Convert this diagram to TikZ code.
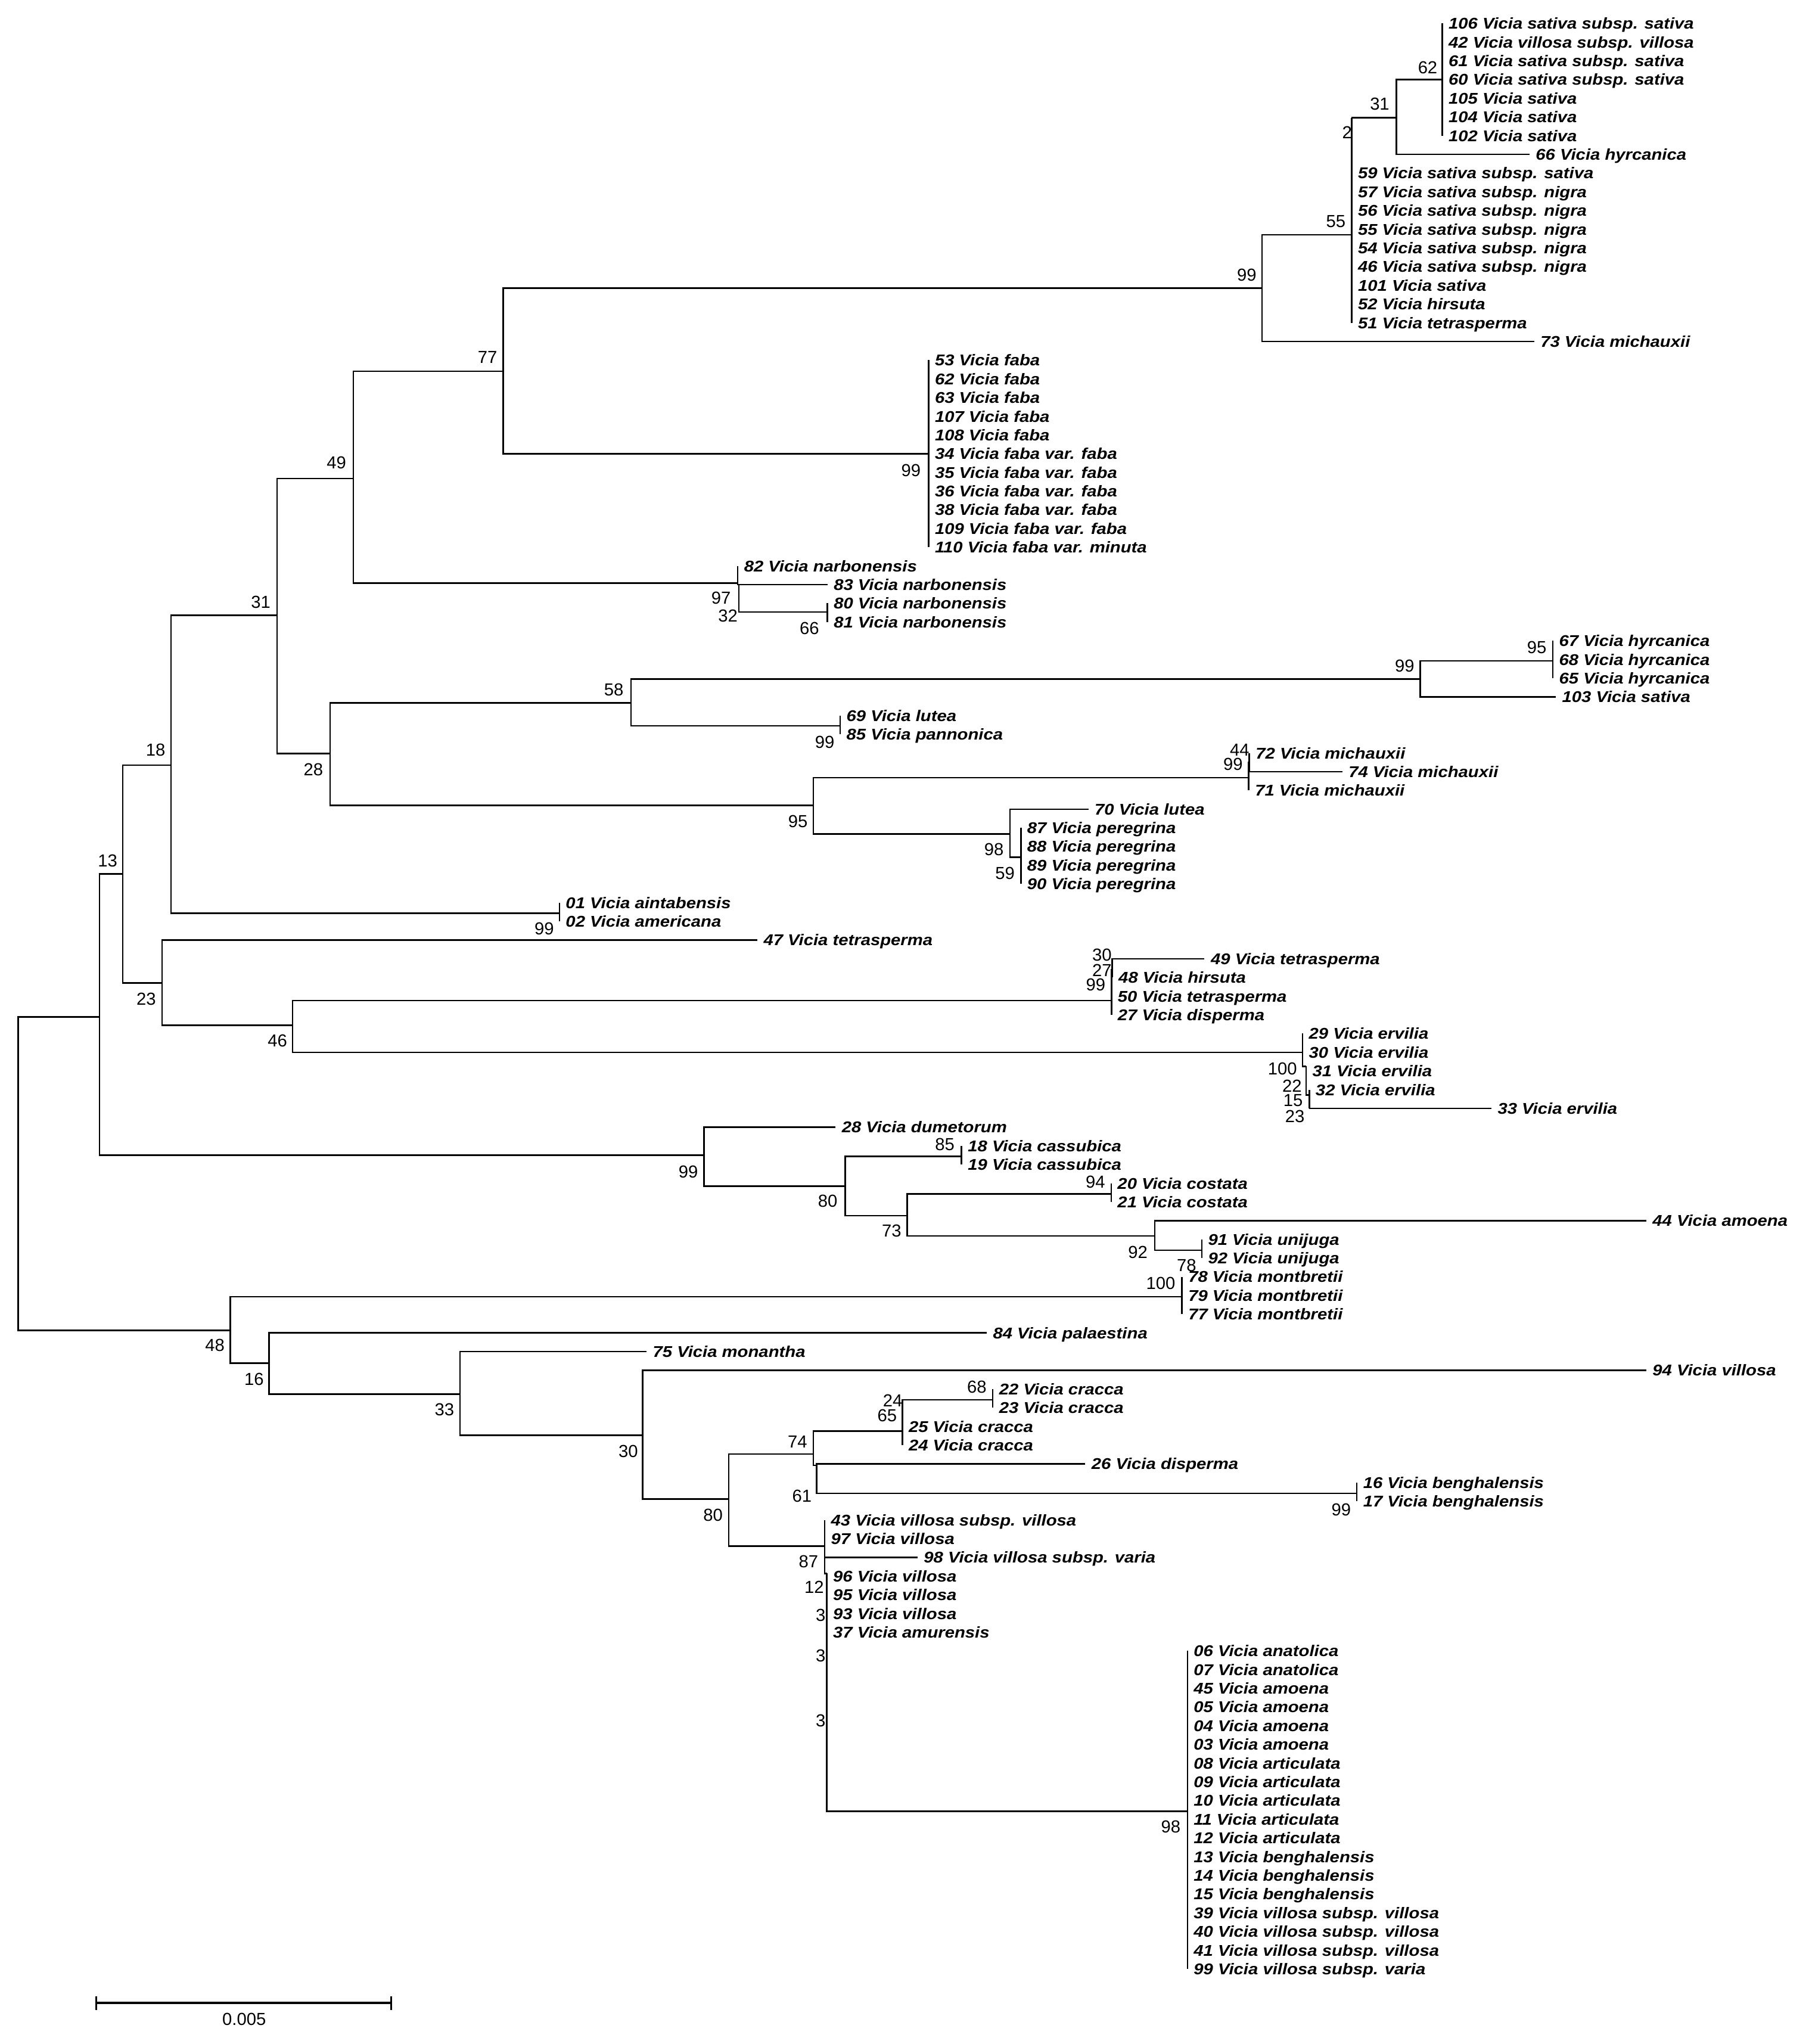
\documentclass[tikz,border=0pt]{standalone}
\usepackage{fontspec}
\newfontfamily\taxonfont[FakeStretch=1.12]{Liberation Sans}
\newfontfamily\bootfont{Liberation Sans}
\tikzset{
  branch/.style={line width=0.65pt},
  taxon/.style={anchor=west, inner xsep=0.09cm, inner ysep=0pt, text height=4.9pt, text depth=0pt,
    font=\taxonfont\fontsize{6.8}{8}\selectfont\bfseries\itshape},
  boot/.style={inner sep=0pt, text height=5.4pt, text depth=0pt, font=\bootfont\fontsize{7.6}{9}\selectfont},
}

\begin{document}
\begin{tikzpicture}[x=0.02cm,y=-0.02cm]
    \useasboundingbox (0,0) rectangle (1390,1568);
    % inner nodes of the tree
    \coordinate (root) at (14,900);
    \coordinate (X76) at (76.3,780);
    \coordinate (B48) at (176.7,1020.5);
    \coordinate (B13) at (94.1,670.5);
    \coordinate (D99) at (540,886.2);
    \coordinate (B18) at (131.2,587);
    \coordinate (B23) at (124.3,754);
    \coordinate (B31) at (212.6,472);
    \coordinate (ami) at (429.2,700.6);
    \coordinate (B49) at (271,367);
    \coordinate (B28) at (253.2,578.1);
    \coordinate (B77) at (386,284.8);
    \coordinate (nar97) at (566,447.3);
    \coordinate (nar32) at (566.8,448.5);
    \coordinate (nar66) at (634.8,469.5);
    \coordinate (sat99) at (968.2,221);
    \coordinate (fab99) at (712.4,348);
    \coordinate (sat55) at (1037,180);
    \coordinate (sat2) at (1037,90.4);
    \coordinate (sat31) at (1071.3,90.4);
    \coordinate (sat62) at (1106.5,61.05);
    \coordinate (B58) at (484.2,539.1);
    \coordinate (hyr99) at (1089.5,520.8);
    \coordinate (hyr95) at (1191.3,507);
    \coordinate (lut99) at (644.6,556.9);
    \coordinate (B95) at (624.1,617.9);
    \coordinate (mic99) at (958,596.5);
    \coordinate (mic44) at (958.5,585);
    \coordinate (per98) at (774.8,639.7);
    \coordinate (per59) at (783.2,657.5);
    \coordinate (B46) at (224.5,786.5);
    \coordinate (tet99) at (852.7,767.6);
    \coordinate (tet27) at (853.3,744);
    \coordinate (tet30) at (854,735.5);
    \coordinate (erv100) at (999.3,807.2);
    \coordinate (erv22) at (1002,818);
    \coordinate (erv15) at (1004.5,840);
    \coordinate (erv23) at (1004.5,850.3);
    \coordinate (cas80) at (648.4,910);
    \coordinate (cas85) at (737.7,887);
    \coordinate (cos73) at (696,932.6);
    \coordinate (cos94) at (852.5,915.8);
    \coordinate (uni92) at (885.9,948.1);
    \coordinate (uni78) at (922,959);
    \coordinate (mon100) at (906.8,994.7);
    \coordinate (B16) at (206.5,1045.8);
    \coordinate (B33) at (353,1069.4);
    \coordinate (B30) at (493,1101);
    \coordinate (vil80) at (559,1150);
    \coordinate (cra74) at (624,1115.4);
    \coordinate (cra65) at (692.3,1097.9);
    \coordinate (cra24) at (692.3,1085);
    \coordinate (cra68) at (761.7,1073.8);
    \coordinate (dis61) at (626.5,1124);
    \coordinate (ben99) at (1041,1145.5);
    \coordinate (vil87) at (632.7,1186);
    \coordinate (vil12) at (634.3,1207);
    \coordinate (vil3a) at (634.3,1232);
    \coordinate (vil3b) at (634.3,1262);
    \coordinate (vil3c) at (634.3,1310);
    \coordinate (art98) at (911,1389.5);

    % taxa
    \node[taxon] (l106) at (1106.5,18) {106 Vicia sativa subsp. sativa};
    \node[taxon] (l42) at (1106.5,32.35) {42 Vicia villosa subsp. villosa};
    \node[taxon] (l61) at (1106.5,46.7) {61 Vicia sativa subsp. sativa};
    \node[taxon] (l60) at (1106.5,61.05) {60 Vicia sativa subsp. sativa};
    \node[taxon] (l105) at (1106.5,75.4) {105 Vicia sativa};
    \node[taxon] (l104) at (1106.5,89.75) {104 Vicia sativa};
    \node[taxon] (l102) at (1106.5,104.1) {102 Vicia sativa};
    \node[taxon] (l66) at (1173.4,118.45) {66 Vicia hyrcanica};
    \node[taxon] (l59) at (1037,132.8) {59 Vicia sativa subsp. sativa};
    \node[taxon] (l57) at (1037,147.15) {57 Vicia sativa subsp. nigra};
    \node[taxon] (l56) at (1037,161.5) {56 Vicia sativa subsp. nigra};
    \node[taxon] (l55) at (1037,175.85) {55 Vicia sativa subsp. nigra};
    \node[taxon] (l54) at (1037,190.2) {54 Vicia sativa subsp. nigra};
    \node[taxon] (l46) at (1037,204.55) {46 Vicia sativa subsp. nigra};
    \node[taxon] (l101) at (1037,218.9) {101 Vicia sativa};
    \node[taxon] (l52) at (1037,233.25) {52 Vicia hirsuta};
    \node[taxon] (l51) at (1037,247.6) {51 Vicia tetrasperma};
    \node[taxon] (l73) at (1177,261.95) {73 Vicia michauxii};
    \node[taxon] (l53) at (712.4,276.3) {53 Vicia faba};
    \node[taxon] (l62) at (712.4,290.65) {62 Vicia faba};
    \node[taxon] (l63) at (712.4,305) {63 Vicia faba};
    \node[taxon] (l107) at (712.4,319.35) {107 Vicia faba};
    \node[taxon] (l108) at (712.4,333.7) {108 Vicia faba};
    \node[taxon] (l34) at (712.4,348.05) {34 Vicia faba var. faba};
    \node[taxon] (l35) at (712.4,362.4) {35 Vicia faba var. faba};
    \node[taxon] (l36) at (712.4,376.75) {36 Vicia faba var. faba};
    \node[taxon] (l38) at (712.4,391.1) {38 Vicia faba var. faba};
    \node[taxon] (l109) at (712.4,405.45) {109 Vicia faba var. faba};
    \node[taxon] (l110) at (712.4,419.8) {110 Vicia faba var. minuta};
    \node[taxon] (l82) at (566,434.15) {82 Vicia narbonensis};
    \node[taxon] (l83) at (634.8,448.5) {83 Vicia narbonensis};
    \node[taxon] (l80) at (634.8,462.85) {80 Vicia narbonensis};
    \node[taxon] (l81) at (634.8,477.2) {81 Vicia narbonensis};
    \node[taxon] (l67) at (1191.3,491.55) {67 Vicia hyrcanica};
    \node[taxon] (l68) at (1191.3,505.9) {68 Vicia hyrcanica};
    \node[taxon] (l65) at (1191.3,520.25) {65 Vicia hyrcanica};
    \node[taxon] (l103) at (1193.6,534.6) {103 Vicia sativa};
    \node[taxon] (l69) at (644.6,548.95) {69 Vicia lutea};
    \node[taxon] (l85) at (644.6,563.3) {85 Vicia pannonica};
    \node[taxon] (l72) at (958.5,577.65) {72 Vicia michauxii};
    \node[taxon] (l74) at (1029.8,592) {74 Vicia michauxii};
    \node[taxon] (l71) at (958,606.35) {71 Vicia michauxii};
    \node[taxon] (l70) at (835,620.7) {70 Vicia lutea};
    \node[taxon] (l87) at (783.2,635.05) {87 Vicia peregrina};
    \node[taxon] (l88) at (783.2,649.4) {88 Vicia peregrina};
    \node[taxon] (l89) at (783.2,663.75) {89 Vicia peregrina};
    \node[taxon] (l90) at (783.2,678.1) {90 Vicia peregrina};
    \node[taxon] (l01) at (429.2,692.45) {01 Vicia aintabensis};
    \node[taxon] (l02) at (429.2,706.8) {02 Vicia americana};
    \node[taxon] (l47) at (581,721.15) {47 Vicia tetrasperma};
    \node[taxon] (l49) at (924.1,735.5) {49 Vicia tetrasperma};
    \node[taxon] (l48) at (853.3,749.85) {48 Vicia hirsuta};
    \node[taxon] (l50) at (852.7,764.2) {50 Vicia tetrasperma};
    \node[taxon] (l27) at (852.7,778.55) {27 Vicia disperma};
    \node[taxon] (l29) at (999.3,792.9) {29 Vicia ervilia};
    \node[taxon] (l30) at (999.3,807.25) {30 Vicia ervilia};
    \node[taxon] (l31) at (1002,821.6) {31 Vicia ervilia};
    \node[taxon] (l32) at (1004.5,835.95) {32 Vicia ervilia};
    \node[taxon] (l33) at (1144.2,850.3) {33 Vicia ervilia};
    \node[taxon] (l28) at (641,864.65) {28 Vicia dumetorum};
    \node[taxon] (l18) at (737.7,879) {18 Vicia cassubica};
    \node[taxon] (l19) at (737.7,893.35) {19 Vicia cassubica};
    \node[taxon] (l20) at (852.5,907.7) {20 Vicia costata};
    \node[taxon] (l21) at (852.5,922.05) {21 Vicia costata};
    \node[taxon] (l44) at (1263,936.4) {44 Vicia amoena};
    \node[taxon] (l91) at (922,950.75) {91 Vicia unijuga};
    \node[taxon] (l92) at (922,965.1) {92 Vicia unijuga};
    \node[taxon] (l78) at (906.8,979.45) {78 Vicia montbretii};
    \node[taxon] (l79) at (906.8,993.8) {79 Vicia montbretii};
    \node[taxon] (l77) at (906.8,1008.15) {77 Vicia montbretii};
    \node[taxon] (l84) at (757,1022.5) {84 Vicia palaestina};
    \node[taxon] (l75) at (496,1036.85) {75 Vicia monantha};
    \node[taxon] (l94) at (1263,1051.2) {94 Vicia villosa};
    \node[taxon] (l22) at (761.7,1065.55) {22 Vicia cracca};
    \node[taxon] (l23) at (761.7,1079.9) {23 Vicia cracca};
    \node[taxon] (l25) at (692.3,1094.25) {25 Vicia cracca};
    \node[taxon] (l24) at (692.3,1108.6) {24 Vicia cracca};
    \node[taxon] (l26) at (832.6,1122.95) {26 Vicia disperma};
    \node[taxon] (l16) at (1041,1137.3) {16 Vicia benghalensis};
    \node[taxon] (l17) at (1041,1151.65) {17 Vicia benghalensis};
    \node[taxon] (l43) at (632.7,1166) {43 Vicia villosa subsp. villosa};
    \node[taxon] (l97) at (632.7,1180.35) {97 Vicia villosa};
    \node[taxon] (l98) at (703.9,1194.7) {98 Vicia villosa subsp. varia};
    \node[taxon] (l96) at (634.3,1209.05) {96 Vicia villosa};
    \node[taxon] (l95) at (634.3,1223.4) {95 Vicia villosa};
    \node[taxon] (l93) at (634.3,1237.75) {93 Vicia villosa};
    \node[taxon] (l37) at (634.3,1252.1) {37 Vicia amurensis};
    \node[taxon] (l06) at (911,1266.45) {06 Vicia anatolica};
    \node[taxon] (l07) at (911,1280.8) {07 Vicia anatolica};
    \node[taxon] (l45) at (911,1295.15) {45 Vicia amoena};
    \node[taxon] (l05) at (911,1309.5) {05 Vicia amoena};
    \node[taxon] (l04) at (911,1323.85) {04 Vicia amoena};
    \node[taxon] (l03) at (911,1338.2) {03 Vicia amoena};
    \node[taxon] (l08) at (911,1352.55) {08 Vicia articulata};
    \node[taxon] (l09) at (911,1366.9) {09 Vicia articulata};
    \node[taxon] (l10) at (911,1381.25) {10 Vicia articulata};
    \node[taxon] (l11) at (911,1395.6) {11 Vicia articulata};
    \node[taxon] (l12) at (911,1409.95) {12 Vicia articulata};
    \node[taxon] (l13) at (911,1424.3) {13 Vicia benghalensis};
    \node[taxon] (l14) at (911,1438.65) {14 Vicia benghalensis};
    \node[taxon] (l15) at (911,1453) {15 Vicia benghalensis};
    \node[taxon] (l39) at (911,1467.35) {39 Vicia villosa subsp. villosa};
    \node[taxon] (l40) at (911,1481.7) {40 Vicia villosa subsp. villosa};
    \node[taxon] (l41) at (911,1496.05) {41 Vicia villosa subsp. villosa};
    \node[taxon] (l99) at (911,1510.4) {99 Vicia villosa subsp. varia};

    % branches
    \draw[branch] (root) |- (X76) (root) |- (B48);
    \draw[branch] (X76) |- (B13) (X76) |- (D99);
    \draw[branch] (B13) |- (B18) (B13) |- (B23);
    \draw[branch] (B18) |- (B31) (B18) |- (ami);
    \draw[branch] (ami) |- (l01.west) (ami) |- (l02.west);
    \draw[branch] (B31) |- (B49) (B31) |- (B28);
    \draw[branch] (B49) |- (B77) (B49) |- (nar97);
    \draw[branch] (B77) |- (sat99) (B77) |- (fab99);
    \draw[branch] (sat99) |- (sat55) (sat99) |- (l73.west);
    \draw[branch] (sat55) |- (sat2) (sat2) |- (sat31);
    \draw[branch] (sat55) |- (l59.west) (sat55) |- (l51.west);
    \draw[branch] (sat31) |- (sat62) (sat31) |- (l66.west);
    \draw[branch] (sat62) |- (l106.west) (sat62) |- (l102.west);
    \draw[branch] (fab99) |- (l53.west) (fab99) |- (l110.west);
    \draw[branch] (nar97) |- (l82.west) (nar97) |- (nar32);
    \draw[branch] (nar32) |- (l83.west) (nar32) |- (nar66);
    \draw[branch] (nar66) |- (l80.west) (nar66) |- (l81.west);
    \draw[branch] (B28) |- (B58) (B28) |- (B95);
    \draw[branch] (B58) |- (hyr99) (B58) |- (lut99);
    \draw[branch] (hyr99) |- (hyr95) (hyr99) |- (l103.west);
    \draw[branch] (hyr95) |- (l67.west) (hyr95) |- (l65.west);
    \draw[branch] (lut99) |- (l69.west) (lut99) |- (l85.west);
    \draw[branch] (B95) |- (mic99) (B95) |- (per98);
    \draw[branch] (mic99) |- (mic44) (mic99) |- (l71.west);
    \draw[branch] (mic44) |- (l72.west) (mic44) |- (l74.west);
    \draw[branch] (per98) |- (l70.west) (per98) |- (per59);
    \draw[branch] (per59) |- (l87.west) (per59) |- (l90.west);
    \draw[branch] (B23) |- (l47.west) (B23) |- (B46);
    \draw[branch] (B46) |- (tet99) (B46) |- (erv100);
    \draw[branch] (tet99) |- (tet27) (tet99) |- (l50.west) (tet99) |- (l27.west);
    \draw[branch] (tet27) |- (tet30) (tet27) |- (l48.west);
    \draw[branch] (tet30) |- (l49.west);
    \draw[branch] (erv100) |- (l29.west) (erv100) |- (l30.west) (erv100) |- (erv22);
    \draw[branch] (erv22) |- (l31.west) (erv22) |- (erv15);
    \draw[branch] (erv15) |- (l32.west) (erv15) |- (erv23);
    \draw[branch] (erv23) |- (l33.west);
    \draw[branch] (D99) |- (l28.west) (D99) |- (cas80);
    \draw[branch] (cas80) |- (cas85) (cas80) |- (cos73);
    \draw[branch] (cas85) |- (l18.west) (cas85) |- (l19.west);
    \draw[branch] (cos73) |- (cos94) (cos73) |- (uni92);
    \draw[branch] (cos94) |- (l20.west) (cos94) |- (l21.west);
    \draw[branch] (uni92) |- (l44.west) (uni92) |- (uni78);
    \draw[branch] (uni78) |- (l91.west) (uni78) |- (l92.west);
    \draw[branch] (B48) |- (mon100) (B48) |- (B16);
    \draw[branch] (mon100) |- (l78.west) (mon100) |- (l77.west);
    \draw[branch] (B16) |- (l84.west) (B16) |- (B33);
    \draw[branch] (B33) |- (l75.west) (B33) |- (B30);
    \draw[branch] (B30) |- (l94.west) (B30) |- (vil80);
    \draw[branch] (vil80) |- (cra74) (vil80) |- (vil87);
    \draw[branch] (cra74) |- (cra65) (cra74) |- (dis61);
    \draw[branch] (cra65) |- (cra24) (cra65) |- (l24.west);
    \draw[branch] (cra24) |- (cra68) (cra24) |- (l25.west);
    \draw[branch] (cra68) |- (l22.west) (cra68) |- (l23.west);
    \draw[branch] (dis61) |- (l26.west) (dis61) |- (ben99);
    \draw[branch] (ben99) |- (l16.west) (ben99) |- (l17.west);
    \draw[branch] (vil87) |- (l43.west) (vil87) |- (l98.west) (vil87) |- (vil12);
    \draw[branch] (vil12) |- (l96.west) (vil12) |- (vil3a);
    \draw[branch] (vil3a) |- (l95.west) (vil3a) |- (vil3b);
    \draw[branch] (vil3b) |- (l37.west) (vil3b) |- (vil3c);
    \draw[branch] (vil3c) |- (art98);
    \draw[branch] (art98) |- (l06.west) (art98) |- (l99.west);

    % bootstrap values
    \node[boot] (bB13) at (82.6,660) {13};
    \node[boot] (bB18) at (119.4,575) {18};
    \node[boot] (bB23) at (112.2,766) {23};
    \node[boot] (bB31) at (200,461.6) {31};
    \node[boot] (bB49) at (258.1,354.6) {49};
    \node[boot] (bB28) at (240.4,590.2) {28};
    \node[boot] (bB46) at (212.8,798) {46};
    \node[boot] (bB48) at (164.9,1031.6) {48};
    \node[boot] (bB16) at (194.9,1057.8) {16};
    \node[boot] (bB77) at (374,274) {77};
    \node[boot] (bami) at (417.5,712.4) {99};
    \node[boot] (bD99) at (528,899) {99};
    \node[boot] (bnar97) at (553.2,458.7) {97};
    \node[boot] (bnar32) at (558.5,472.4) {32};
    \node[boot] (bnar66) at (621,481.8) {66};
    \node[boot] (bfab99) at (698.9,360.6) {99};
    \node[boot] (bsat99) at (956.5,210.8) {99};
    \node[boot] (bsat55) at (1024.8,169.7) {55};
    \node[boot] (bsat2) at (1033.5,101.5) {2};
    \node[boot] (bsat31) at (1058.5,79.6) {31};
    \node[boot] (bsat62) at (1095.3,51.6) {62};
    \node[boot] (bB58) at (470.9,528.8) {58};
    \node[boot] (bhyr99) at (1077.6,510.5) {99};
    \node[boot] (bhyr95) at (1179,496.3) {95};
    \node[boot] (blut99) at (632.7,569.1) {99};
    \node[boot] (bB95) at (612.2,630.1) {95};
    \node[boot] (bmic44) at (951,575.2) {44};
    \node[boot] (bmic99) at (946,586) {99};
    \node[boot] (bper98) at (762.6,651.4) {98};
    \node[boot] (bper59) at (771,669.7) {59};
    \node[boot] (btet30) at (845.4,732.2) {30};
    \node[boot] (btet27) at (845.4,744.4) {27};
    \node[boot] (btet99) at (840.6,755.4) {99};
    \node[boot] (berv100) at (983.9,819.8) {100};
    \node[boot] (berv22) at (991.2,832.8) {22};
    \node[boot] (berv15) at (992,843.9) {15};
    \node[boot] (berv23) at (993.4,856.4) {23};
    \node[boot] (bcas85) at (724.9,877.7) {85};
    \node[boot] (bcas80) at (635,921.1) {80};
    \node[boot] (bcos73) at (684.1,944) {73};
    \node[boot] (bcos94) at (840.4,906.4) {94};
    \node[boot] (buni92) at (873,960.3) {92};
    \node[boot] (buni78) at (910.3,970.7) {78};
    \node[boot] (bmon100) at (890.5,984.4) {100};
    \node[boot] (bB33) at (341,1081) {33};
    \node[boot] (bB30) at (482,1113) {30};
    \node[boot] (bvil80) at (547,1162) {80};
    \node[boot] (bcra74) at (611.8,1106) {74};
    \node[boot] (bcra65) at (680.6,1085.7) {65};
    \node[boot] (bcra24) at (684.8,1074.3) {24};
    \node[boot] (bcra68) at (749.4,1063.6) {68};
    \node[boot] (bdis61) at (615.3,1147.4) {61};
    \node[boot] (bben99) at (1029,1158) {99};
    \node[boot] (bvil87) at (620.3,1197.7) {87};
    \node[boot] (bvil12) at (624.6,1217.5) {12};
    \node[boot] (bvil3a) at (629.6,1239) {3};
    \node[boot] (bvil3b) at (629.6,1270.1) {3};
    \node[boot] (bvil3c) at (629.6,1319.7) {3};
    \node[boot] (bart98) at (898.2,1401.4) {98};

    % scale bar
    \coordinate (sbl) at (73.9,1536.5);
    \coordinate (sbr) at (300.1,1536.5);
    \draw[line width=0.9pt] (sbl) -- (sbr);
    \draw[branch] (sbl) ++(0,-5.2) -- ++(0,10.4);
    \draw[branch] (sbr) ++(0,-5.2) -- ++(0,10.4);
    \node[boot] (scale) at (187.3,1549) {0.005};
\end{tikzpicture}
\end{document}
